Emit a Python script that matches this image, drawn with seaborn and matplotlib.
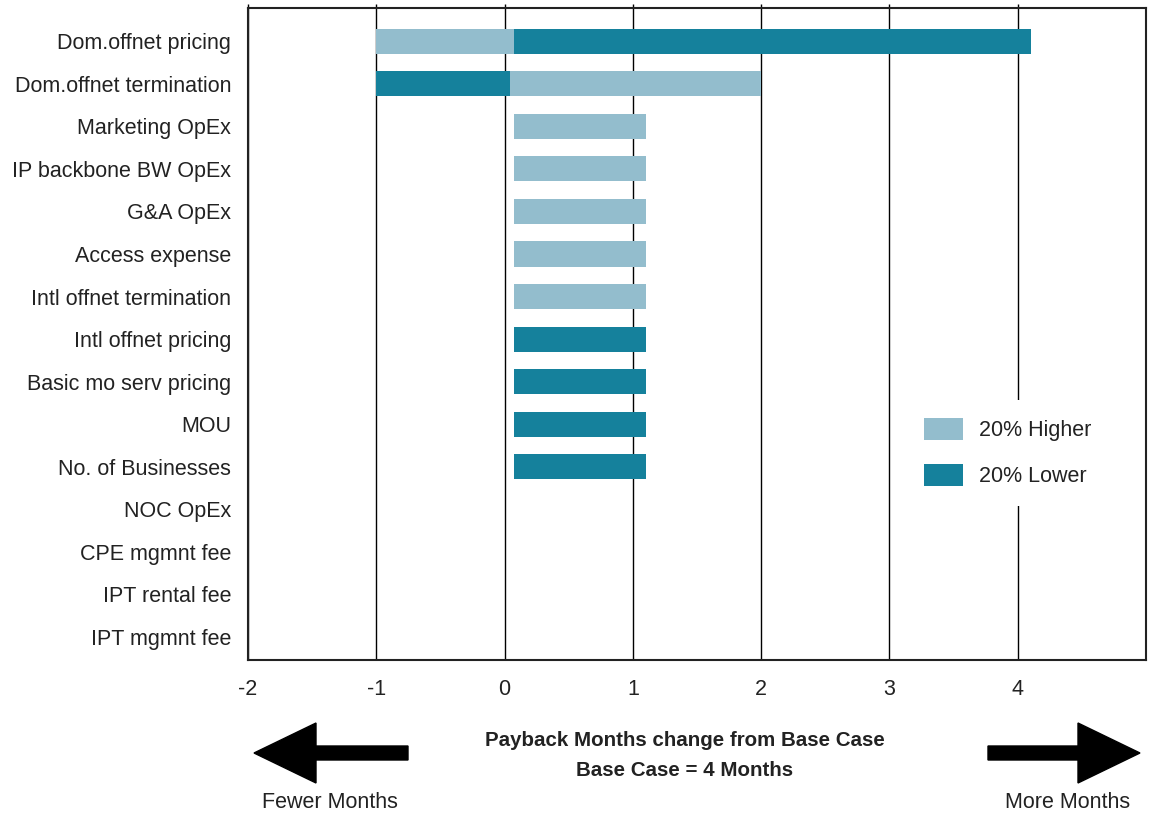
import matplotlib
matplotlib.use('Agg')

import numpy as np
import pandas as pd
import seaborn as sns
from matplotlib import pyplot as plt
from matplotlib.patches import Patch, FancyArrow

# данные
categories = ['Dom.offnet pricing', 'Dom.offnet termination', 'Marketing OpEx',
              'IP backbone BW OpEx', 'G&A OpEx', 'Access expense',
              'Intl offnet termination', 'Intl offnet pricing',
              'Basic mo serv pricing', 'MOU', 'No. of Businesses', 'NOC OpEx',
              'CPE mgmnt fee', 'IPT rental fee', 'IPT mgmnt fee']
higher_start = [-1.0, 0.04, 0.07, 0.07, 0.07, 0.07, 0.07, None, None, None, None, None, None, None, None]
higher_end = [0.07, 2.0, 1.1, 1.1, 1.1, 1.1, 1.1, None, None, None, None, None, None, None, None]
lower_start = [0.07, -1.0, None, None, None, None, None, 0.07, 0.07, 0.07, 0.07, None, None, None, None]
lower_end = [4.1, 0.04, None, None, None, None, None, 1.1, 1.1, 1.1, 1.1, None, None, None, None]
series_names = ['20% Higher', '20% Lower']
x_ticks = [-2, -1, 0, 1, 2, 3, 4]

light = '#93bdcd'
dark = '#15819c'

sns.set_style('white')
plt.rcParams['font.family'] = ['Liberation Sans', 'DejaVu Sans']

df = pd.DataFrame({'cat': categories,
                   'h0': higher_start, 'h1': higher_end,
                   'l0': lower_start, 'l1': lower_end})
df['pos'] = np.arange(len(df))

fig = plt.figure(figsize=(11.52, 8.14), dpi=100)
ax = fig.add_axes([248 / 1152, 1 - 660 / 814, 898 / 1152, 652 / 814])

h = df.dropna(subset=['h0'])
l = df.dropna(subset=['l0'])
ax.barh(h['pos'], h['h1'] - h['h0'], left=h['h0'], height=0.59, color=light,
        edgecolor='none', linewidth=0, zorder=3)
ax.barh(l['pos'], l['l1'] - l['l0'], left=l['l0'], height=0.59, color=dark,
        edgecolor='none', linewidth=0, zorder=3)

ax.set_xlim(-2, 5)
ax.set_ylim(14.54, -0.78)
ax.set_xticks(x_ticks)
ax.set_xticklabels([str(t) for t in x_ticks], fontsize=15.5, color='#222222')
ax.set_yticks(df['pos'])
ax.set_yticklabels(categories, fontsize=15.5, color='#222222')
ax.tick_params(axis='y', length=0, pad=12)
ax.tick_params(axis='x', direction='out', length=3, width=1, color='black',
               top=True, pad=11)
ax.grid(axis='x', color='black', linewidth=1, zorder=0)
ax.grid(axis='y', visible=False)
ax.set_axisbelow(True)
for s in ax.spines.values():
    s.set_visible(True)
    s.set_color('#222222')
    s.set_linewidth(1.5)

handles = [Patch(facecolor=light, edgecolor='none'), Patch(facecolor=dark, edgecolor='none')]
leg = ax.legend(handles, series_names, loc='center', bbox_to_anchor=(0.846, 0.318),
                fontsize=15.5, handlelength=1.8, handleheight=1.2, handletextpad=0.75,
                labelspacing=1.05, borderpad=0.85, frameon=True, fancybox=False,
                framealpha=1, facecolor='white', edgecolor='none')
for t in leg.get_texts():
    t.set_color('#222222')
leg.set_zorder(5)

# подписи и стрелки снизу
fig.text(685 / 1152, 1 - 741 / 814, 'Payback Months change from Base Case',
         ha='center', va='center', fontsize=14.8, fontweight='bold', color='#222222')
fig.text(685 / 1152, 1 - 770 / 814, 'Base Case = 4 Months',
         ha='center', va='center', fontsize=14.8, fontweight='bold', color='#222222')
fig.text(330 / 1152, 1 - 802 / 814, 'Fewer Months', ha='center', va='center',
         fontsize=15.5, color='#222222')
fig.text(1068 / 1152, 1 - 802 / 814, 'More Months', ha='center', va='center',
         fontsize=15.5, color='#222222')

ov = fig.add_axes([0, 0, 1, 1], zorder=-1)
ov.set_xlim(0, 1152)
ov.set_ylim(814, 0)
ov.axis('off')
ov.add_patch(FancyArrow(408, 753, -154, 0, width=14, head_width=60, head_length=62,
                        length_includes_head=True, color='black'))
ov.add_patch(FancyArrow(988, 753, 152, 0, width=14, head_width=60, head_length=62,
                        length_includes_head=True, color='black'))

fig.savefig('out.png', dpi=100)
